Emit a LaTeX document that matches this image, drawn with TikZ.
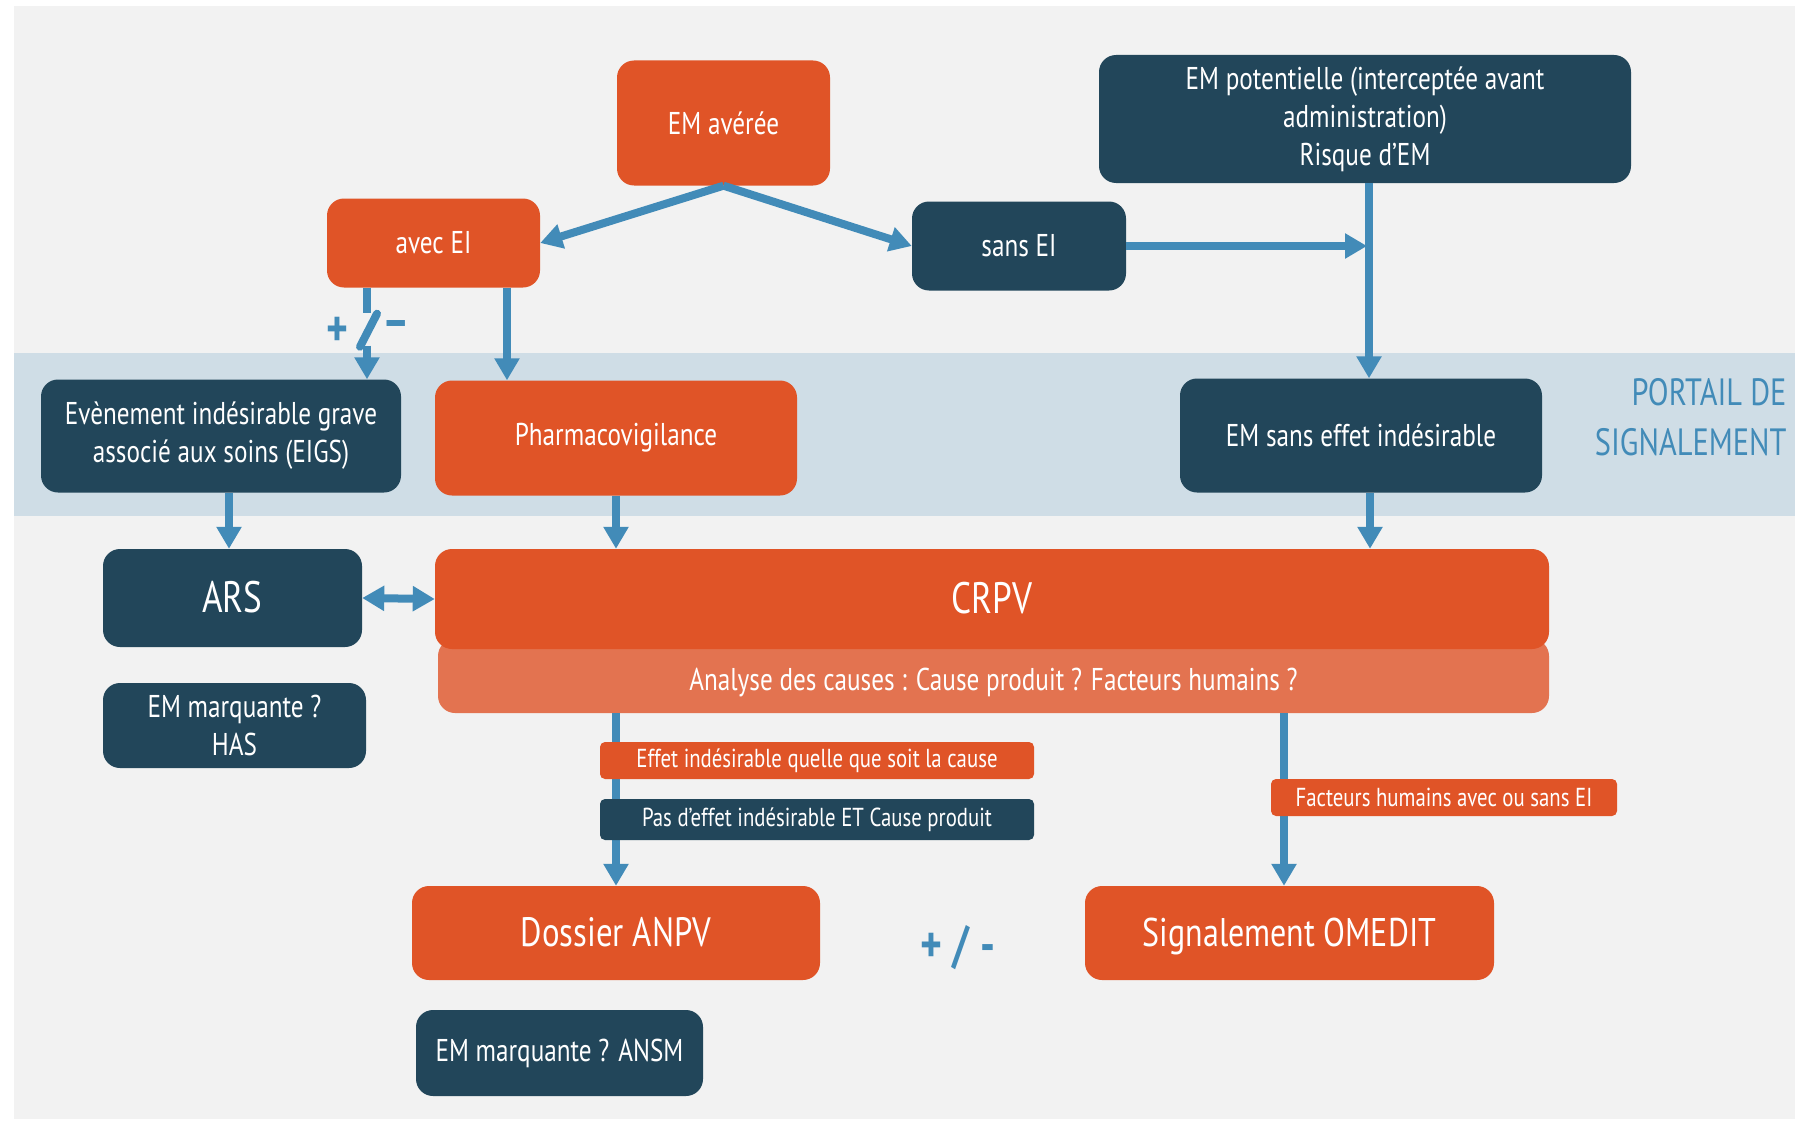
\documentclass[tikz,border=0pt]{standalone}
\usepackage{fontspec}
\setmainfont[FakeStretch=0.8]{PT Sans}
\usetikzlibrary{arrows.meta,calc}

\definecolor{emorange}{HTML}{E05427}
\definecolor{emorangeclair}{HTML}{E37350}
\definecolor{embleu}{HTML}{22465A}
\definecolor{emfleche}{HTML}{428BB8}
\definecolor{emfond}{HTML}{F2F2F2}
\definecolor{embande}{HTML}{CFDDE6}

\begin{document}
\begin{tikzpicture}[x=1pt,y=-1pt,
  boite/.style={rectangle,rounded corners=17pt,inner sep=0pt,text=white,align=center,font=\fontsize{31.5}{38}\selectfont},
  orangebox/.style={boite,fill=emorange},
  darkbox/.style={boite,fill=embleu},
  grandtexte/.style={font=\fontsize{#1}{44}\selectfont,text height=0.66*#1pt,text depth=-2pt},
  etiquette/.style={rectangle,rounded corners=5pt,inner sep=0pt,text=white,font=\fontsize{26}{28}\selectfont},
  fleche/.style={line width=8pt,draw=emfleche,-{Triangle[width=24pt,length=22pt]}},
  signe/.style={text=emfleche,font=\fontsize{52}{52}\selectfont\bfseries}]

\useasboundingbox (0,0) rectangle (1795,1121);
\fill[emfond] (14,6) rectangle (1795,1119);
\fill[embande] (14,353) rectangle (1795,516);

\node[orangebox,minimum width=213pt,minimum height=125pt] (emaveree) at (723.5,123) {EM avérée};
\node[darkbox,minimum width=532pt,minimum height=128pt] (empot) at (1365,119) {EM potentielle (interceptée avant\\administration)\\Risque d'EM};
\node[orangebox,minimum width=213pt,minimum height=89pt] (avecei) at (433.5,243) {avec EI};
\node[darkbox,minimum width=214pt,minimum height=89pt] (sansei) at (1019,246) {sans EI};

\node[darkbox,minimum width=360pt,minimum height=113pt] (eigs) at (221,436) {Evènement indésirable grave\\associé aux soins (EIGS)};
\node[orangebox,minimum width=362pt,minimum height=115pt] (pharmaco) at (616,438) {Pharmacovigilance};
\node[darkbox,minimum width=362pt,minimum height=114pt] (sanseffet) at (1361,435.5) {EM sans effet indésirable};
\node[anchor=east,align=right,text=emfleche,font=\fontsize{38}{50}\selectfont] (portail) at (1790,417) {PORTAIL DE\\SIGNALEMENT};

\node[darkbox,minimum width=259pt,minimum height=98pt,grandtexte=44] (ars) at (232.5,598) {ARS};
\node[boite,fill=emorangeclair,minimum width=1111pt,minimum height=74pt] (analyse) at (993.5,676) {};
\node[orangebox,minimum width=1114pt,minimum height=100pt,grandtexte=44] (crpv) at (992,599) {CRPV};
\node[text=white,font=\fontsize{31.5}{38}\selectfont] (causes) at (analyse.center |- 0,683) {Analyse des causes : Cause produit ? Facteurs humains ?};
\node[darkbox,minimum width=263pt,minimum height=85pt] (has) at (234.5,725.5) {EM marquante ?\\HAS};

\node[orangebox,minimum width=408pt,minimum height=94pt,grandtexte=41] (dossier) at (616,933) {Dossier ANPV};
\node[orangebox,minimum width=409pt,minimum height=94pt,grandtexte=40] (omedit) at (1289.5,933) {Signalement OMEDIT};
\node[darkbox,minimum width=287pt,minimum height=86pt] (ansm) at (559.5,1053) {EM marquante ? ANSM};
\node[signe] (plusmoins) at (958,948) {+ / -};

\draw[fleche] (emaveree.south) -- (avecei.east);
\draw[fleche] (emaveree.south) -- (sansei.west);
\path ($(empot.south)+(4,0)$) coordinate (jonction);
\draw[fleche] (sansei.east) -- ($(sansei.east -| jonction)+(-2,0)$);
\draw[fleche] (jonction) -- (jonction |- sanseffet.north);

\path ($(avecei.south)+(-66.5,0)$) coordinate (interrupteur);
\draw[line width=8pt,draw=emfleche] (interrupteur) -- ++(0,25);
\draw[line width=8pt,draw=emfleche,line cap=round] ($(interrupteur)+(10,26)$) -- ($(interrupteur)+(-7,59)$);
\draw[fleche] ($(interrupteur)+(0,58)$) -- (interrupteur |- eigs.north);
\node[signe] (plus) at (337,332) {+};
\node[signe] (moins) at (396,330) {–};
\path ($(avecei.south)+(73.5,0)$) coordinate (versphv);
\draw[fleche] (versphv) -- (versphv |- pharmaco.north);

\draw[fleche] ($(eigs.south)+(8,0)$) -- ($(ars.north)+(-3.5,0)$);
\draw[fleche] (pharmaco.south) -- (pharmaco.south |- crpv.north);
\path ($(sanseffet.south)+(9,0)$) coordinate (versrisque);
\draw[fleche] (versrisque) -- (versrisque |- crpv.north);
\draw[line width=8pt,draw=emfleche,{Triangle[width=24pt,length=22pt]}-{Triangle[width=24pt,length=22pt]}] (ars.east) -- (crpv.west);

\draw[fleche] (analyse.south -| dossier.north) -- (dossier.north);
\path ($(omedit.north)+(-5.5,0)$) coordinate (versomedit);
\draw[fleche] (analyse.south -| versomedit) -- (versomedit);

\node[etiquette,fill=emorange,minimum width=434pt,minimum height=37pt] (effet) at (817,760.5) {Effet indésirable quelle que soit la cause};
\node[etiquette,fill=embleu,minimum width=434pt,minimum height=41pt] (pasdeffet) at (817,819.5) {Pas d'effet indésirable ET Cause produit};
\node[etiquette,fill=emorange,minimum width=346pt,minimum height=37pt] (facteurs) at (1444,797.5) {Facteurs humains avec ou sans EI};

\end{tikzpicture}
\end{document}
